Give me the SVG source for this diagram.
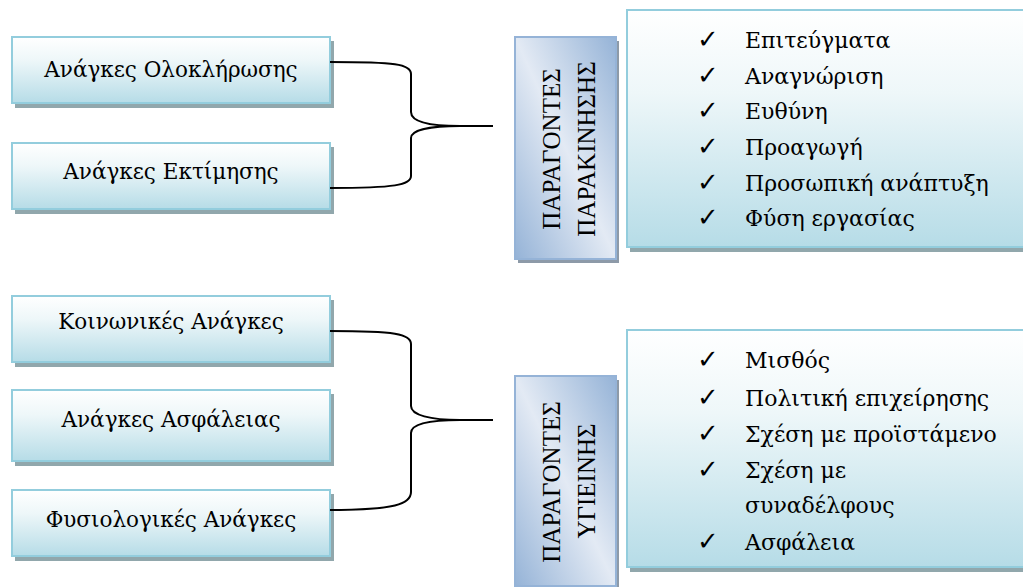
<svg xmlns="http://www.w3.org/2000/svg" width="1023" height="587" viewBox="0 0 1023 587">
  <defs>
    <linearGradient id="gLight" x1="0" y1="0" x2="0" y2="1">
      <stop offset="0" stop-color="#ffffff"/>
      <stop offset="0.35" stop-color="#eef7f9"/>
      <stop offset="1" stop-color="#b6dce7"/>
    </linearGradient>
    <linearGradient id="gBlue" x1="0" y1="1" x2="1" y2="0">
      <stop offset="0" stop-color="#95b3d7"/>
      <stop offset="0.5" stop-color="#e3eaf4"/>
      <stop offset="1" stop-color="#95b3d7"/>
    </linearGradient>
  </defs>
  <style>
    .sh { fill: #91a7ac; }
    .shb { fill: #8d9aa8; }
    .box { fill: url(#gLight); stroke: #93cddd; stroke-width: 2; }
    .vbox { fill: url(#gBlue); stroke: #95b3d7; stroke-width: 2; }
    .lbl { font-family: "DejaVu Serif", "Liberation Serif", serif; font-size: 21.5px; fill: #000; text-anchor: middle; }
    .vt { font-family: "Liberation Serif", "DejaVu Serif", serif; font-size: 25px; fill: #000; text-anchor: middle; }
    .li { font-family: "DejaVu Serif", "Liberation Serif", serif; font-size: 22px; fill: #000; }
    .ck { font-family: "DejaVu Sans", sans-serif; font-size: 26px; font-weight: bold; fill: #000; }
    .con { fill: none; stroke: #000; stroke-width: 2; }
  </style>
  <rect width="1023" height="587" fill="#ffffff"/>

  <!-- left nodes, top group -->
  <g id="n-oloklirosis">
    <rect class="sh" x="15" y="41" width="319" height="67"/>
    <rect class="box" x="12" y="37" width="318" height="66"/>
    <text class="lbl" x="171" y="77">Ανάγκες Ολοκλήρωσης</text>
  </g>
  <g id="n-ektimisis">
    <rect class="sh" x="15" y="147" width="319" height="67"/>
    <rect class="box" x="12" y="143" width="318" height="66"/>
    <text class="lbl" x="171" y="179">Ανάγκες Εκτίμησης</text>
  </g>

  <!-- left nodes, bottom group -->
  <g id="n-koinonikes">
    <rect class="sh" x="15" y="300" width="319" height="67"/>
    <rect class="box" x="12" y="296" width="318" height="66"/>
    <text class="lbl" x="171" y="329">Κοινωνικές Ανάγκες</text>
  </g>
  <g id="n-asfaleias">
    <rect class="sh" x="15" y="394" width="319" height="72"/>
    <rect class="box" x="12" y="390" width="318" height="71"/>
    <text class="lbl" x="171" y="427">Ανάγκες Ασφάλειας</text>
  </g>
  <g id="n-fysiologikes">
    <rect class="sh" x="15" y="494" width="319" height="67"/>
    <rect class="box" x="12" y="490" width="318" height="66"/>
    <text class="lbl" x="171" y="527">Φυσιολογικές Ανάγκες</text>
  </g>

  <!-- connectors (braces) -->
  <g id="connectors">
    <path class="con" d="M330,62 C395,62 411,64 411,74 L411,112 C411,122 430,126 460,126 L493,126 M460,126 C430,126 411,130 411,138 L411,176 C411,185 395,188 330,188"/>
    <path class="con" d="M330,331 C395,331 411,334 411,344 L411,406 C411,415 430,420 460,420 L493,420 M460,420 C430,420 411,424 411,433 L411,492 C411,504 395,510 330,510"/>
  </g>

  <!-- vertical category nodes -->
  <g id="n-parakinisis">
    <rect class="shb" x="518" y="41" width="101" height="222"/>
    <rect class="vbox" x="515" y="37" width="101" height="222"/>
    <text class="vt" transform="translate(560,149) rotate(-90)">ΠΑΡΑΓΟΝΤΕΣ</text>
    <text class="vt" transform="translate(595,149) rotate(-90)">ΠΑΡΑΚΙΝΗΣΗΣ</text>
  </g>
  <g id="n-ygieinis">
    <rect class="shb" x="518" y="380" width="101" height="210"/>
    <rect class="vbox" x="515" y="376" width="101" height="210"/>
    <text class="vt" transform="translate(560,482) rotate(-90)">ΠΑΡΑΓΟΝΤΕΣ</text>
    <text class="vt" transform="translate(595,481) rotate(-90)">ΥΓΙΕΙΝΗΣ</text>
  </g>

  <!-- right list nodes -->
  <g id="n-list-parakinisis">
    <rect class="sh" x="630" y="14" width="400" height="238"/>
    <rect class="box" x="627" y="10" width="400" height="237"/>
    <text class="ck" x="697" y="48">✓</text>
    <text class="li" x="745" y="48">Επιτεύγματα</text>
    <text class="ck" x="697" y="84">✓</text>
    <text class="li" x="745" y="84">Αναγνώριση</text>
    <text class="ck" x="697" y="119">✓</text>
    <text class="li" x="745" y="119">Ευθύνη</text>
    <text class="ck" x="697" y="155">✓</text>
    <text class="li" x="745" y="155">Προαγωγή</text>
    <text class="ck" x="697" y="191">✓</text>
    <text class="li" x="745" y="191">Προσωπική ανάπτυξη</text>
    <text class="ck" x="697" y="226">✓</text>
    <text class="li" x="745" y="226">Φύση εργασίας</text>
  </g>
  <g id="n-list-ygieinis">
    <rect class="sh" x="630" y="334" width="400" height="238"/>
    <rect class="box" x="627" y="330" width="400" height="237"/>
    <text class="ck" x="697" y="368">✓</text>
    <text class="li" x="745" y="368">Μισθός</text>
    <text class="ck" x="697" y="406">✓</text>
    <text class="li" x="745" y="406">Πολιτική επιχείρησης</text>
    <text class="ck" x="697" y="442">✓</text>
    <text class="li" x="745" y="442">Σχέση με προϊστάμενο</text>
    <text class="ck" x="697" y="478">✓</text>
    <text class="li" x="745" y="478">Σχέση με</text>
    <text class="li" x="745" y="513">συναδέλφους</text>
    <text class="ck" x="697" y="550">✓</text>
    <text class="li" x="745" y="550">Ασφάλεια</text>
  </g>
</svg>
